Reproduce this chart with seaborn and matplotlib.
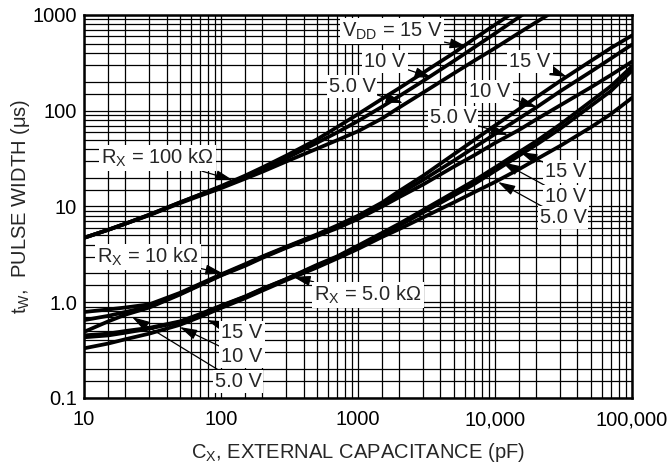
import numpy as np
import pandas as pd
import seaborn as sns
import matplotlib.pyplot as plt
from matplotlib.ticker import FixedLocator, FixedFormatter, NullFormatter

# values (C in pF, t in us)
cap = [10, 15, 20, 30, 50, 70, 100, 150, 200, 300, 500, 700, 1000, 1500, 2000,
       3000, 5000, 7000, 10000, 15000, 20000, 30000, 50000, 70000, 100000]

r100k_15v = [4.7, 5.7, 6.6, 8.2, 11, 13.3, 16.3, 21, 25.5, 34, 50, 67, 92, 133, 172,
             250, 400, 560, 790, 1160, 1530]
r100k_10v = [4.7, 5.7, 6.6, 8.2, 11, 13.2, 16, 20.5, 24.5, 32, 46, 59, 78, 110, 142,
             205, 330, 455, 640, 950, 1260]
r100k_5v = [4.7, 5.7, 6.6, 8.1, 10.8, 12.9, 15.5, 19.5, 23, 29.5, 40, 49, 61, 83, 108,
            155, 245, 330, 450, 650, 840, 1200]

r10k_15v = [0.79, 0.84, 0.88, 0.95, 1.25, 1.55, 1.95, 2.5, 3.0, 3.8, 5.1, 6.3, 8.0, 11,
            14.5, 21, 35, 49, 70, 104, 138, 205, 330, 450, 610]
r10k_10v = [0.65, 0.72, 0.79, 0.90, 1.22, 1.52, 1.92, 2.45, 2.95, 3.75, 5.0, 6.1, 7.7,
            10.5, 13.5, 19, 30, 41, 57, 83, 108, 160, 255, 350, 490]
r10k_5v = [0.49, 0.63, 0.74, 0.88, 1.2, 1.5, 1.9, 2.4, 2.9, 3.7, 4.9, 5.9, 7.4, 10,
           12.5, 17, 26, 34, 46, 63, 81, 114, 175, 235, 325]

r5k_15v = [0.45, 0.47, 0.50, 0.54, 0.63, 0.75, 0.92, 1.15, 1.38, 1.75, 2.45, 3.0, 3.9,
           5.3, 6.6, 9.2, 14, 18.5, 25.5, 37, 48, 72, 125, 180, 290]
r5k_10v = [0.43, 0.45, 0.48, 0.53, 0.62, 0.74, 0.91, 1.14, 1.37, 1.74, 2.4, 2.95, 3.8,
           5.1, 6.3, 8.7, 13, 17, 23.5, 34, 44, 65, 112, 160, 262]
r5k_5v = [0.33, 0.37, 0.41, 0.47, 0.58, 0.70, 0.87, 1.1, 1.32, 1.7, 2.3, 2.85, 3.6,
          4.8, 5.8, 7.7, 11, 14, 18, 24.5, 31, 43, 67, 92, 136]

x_ticks = [10, 100, 1000, 10000, 100000]
x_labels = ["10", "100", "1000", "10,000", "100,000"]
y_ticks = [0.1, 1, 10, 100, 1000]
y_labels = ["0.1", "1.0", "10", "100", "1000"]

curves = {
    "100k 15V": r100k_15v, "100k 10V": r100k_10v, "100k 5V": r100k_5v,
    "10k 15V": r10k_15v, "10k 10V": r10k_10v, "10k 5V": r10k_5v,
    "5k 15V": r5k_15v, "5k 10V": r5k_10v, "5k 5V": r5k_5v,
}
rows = []
for name, vals in curves.items():
    for c, t in zip(cap, vals):
        rows.append((name, c, t))
df = pd.DataFrame(rows, columns=["curve", "C", "t"])

sns.set_theme(style="white")
plt.rcParams["font.family"] = ["Liberation Sans Narrow", "Liberation Sans", "DejaVu Sans"]
plt.rcParams["mathtext.fontset"] = "custom"
plt.rcParams["mathtext.rm"] = "Liberation Sans"

fig, ax = plt.subplots(figsize=(6.67, 4.66), dpi=100)
fig.subplots_adjust(left=0.126, right=0.9475, bottom=0.146, top=0.968)

sns.lineplot(data=df, x="C", y="t", hue="curve", palette=["black"] * 9,
             estimator=None, legend=False, lw=2.7, ax=ax, zorder=3)

ax.set_xscale("log")
ax.set_yscale("log")
ax.set_xlim(10, 100000)
ax.set_ylim(0.1, 1000)

subs = [1.5, 2, 3, 4, 5, 6, 7, 8, 9]
x_minor = [d * s for d in [10, 100, 1000, 10000] for s in subs]
y_minor = [d * s for d in [0.1, 1, 10, 100] for s in subs]
ax.xaxis.set_major_locator(FixedLocator(x_ticks))
ax.xaxis.set_major_formatter(FixedFormatter(x_labels))
ax.xaxis.set_minor_locator(FixedLocator(x_minor))
ax.xaxis.set_minor_formatter(NullFormatter())
ax.yaxis.set_major_locator(FixedLocator(y_ticks))
ax.yaxis.set_major_formatter(FixedFormatter(y_labels))
ax.yaxis.set_minor_locator(FixedLocator(y_minor))
ax.yaxis.set_minor_formatter(NullFormatter())

ax.grid(which="both", color="black", lw=0.9)
ax.set_axisbelow(True)
ax.tick_params(which="both", length=0, labelsize=14.5, colors="black")
ax.tick_params(axis="x", pad=9)
ax.tick_params(axis="y", pad=5)
for s in ax.spines.values():
    s.set_color("black")
    s.set_linewidth(1.8)

ax.set_xlabel(r"$\mathregular{C_X}$, EXTERNAL CAPACITANCE (pF)", fontsize=14.5, labelpad=8)
ax.set_ylabel(r"$\mathregular{t_W}$,  PULSE WIDTH ($\mathregular{\mu}$s)", fontsize=14.5)
ax.yaxis.set_label_coords(-0.095, 0.5)

# label text, text position, arrow tip
notes = [
    (r"$\mathregular{V_{DD}}$ = 15 V", (1771, 681), (6250, 463)),
    ("10 V", (1574, 323), (3470, 220)),
    ("5.0 V", (904, 177), (2130, 120)),
    (r"$\mathregular{R_X}$ = 100 k$\Omega$", (34.1, 32.1), (122, 18.8)),
    (r"$\mathregular{R_X}$ = 10 k$\Omega$", (29.3, 2.97), (103, 2.0)),
    (r"$\mathregular{R_X}$ = 5.0 k$\Omega$", (1183, 1.19), (336, 1.84)),
    ("15 V", (17990, 323), (33560, 225)),
    ("10 V", (9200, 157), (20270, 109)),
    ("5.0 V", (4935, 84), (12450, 55.8)),
    ("15 V", (32960, 22.9), (15210, 37)),
    ("10 V", (32960, 12.6), (11250, 29)),
    ("5.0 V", (31340, 7.59), (10510, 18)),
    ("15 V", (142, 0.477), (79, 0.65)),
    ("10 V", (142, 0.268), (50, 0.55)),
    ("5.0 V", (133, 0.147), (22.4, 0.70)),
]
for text, xy_text, xy_tip in notes:
    ax.annotate(text, xy=xy_tip, xytext=xy_text, ha="center", va="center",
                fontsize=14.5, zorder=5,
                bbox=dict(boxstyle="square,pad=0.1", fc="white", ec="none"),
                arrowprops=dict(arrowstyle="-|>,head_length=0.75,head_width=0.22",
                                color="black", lw=0.9, mutation_scale=14,
                                shrinkA=0, shrinkB=0))

fig.savefig("out.png", dpi=100)
